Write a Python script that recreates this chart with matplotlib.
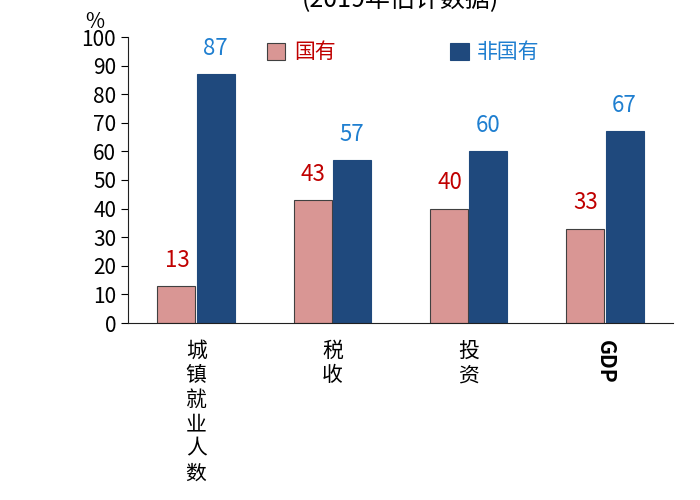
import matplotlib
matplotlib.use("Agg")
import matplotlib.pyplot as plt
import numpy as np

plt.rcParams['font.family'] = ['Noto Sans CJK SC', 'DejaVu Sans']

categories = ["城镇就业人数", "税收", "投资", "GDP"]
state = [13, 43, 40, 33]
nonstate = [87, 57, 60, 67]

fig = plt.figure(figsize=(7, 5), dpi=100)
ax = fig.add_axes([128/700, 1-323/500, 545/700, 286/500])
x = np.arange(len(categories))
w = 0.28
ax.bar(x - w/2 - 0.005, state, w, color='#d99694', edgecolor='#404040', linewidth=0.8, label='国有')
ax.bar(x + w/2 + 0.005, nonstate, w, color='#1f497d', edgecolor='#1f497d', linewidth=0.8, label='非国有')
for i in range(len(x)):
    ax.text(x[i] - w/2, state[i] + 5, str(state[i]), ha='center', va='bottom', color='#c00000', fontsize=16)
    ax.text(x[i] + w/2, nonstate[i] + 5, str(nonstate[i]), ha='center', va='bottom', color='#1f7fd0', fontsize=16)
ax.set_xlim(-0.5, 3.5)
ax.set_ylim(0, 100)
ax.set_yticks(range(0, 101, 10))
ax.tick_params(axis='y', labelsize=15, length=5, direction='out')
ax.tick_params(axis='x', length=0, pad=12)
ax.set_xticks(x)
labels = ["\n".join(c) if not c.isascii() else c for c in categories]
ax.set_xticklabels(labels, fontsize=15, va='top', linespacing=1.15)
ax.get_xticklabels()[3].set_rotation(-90)
ax.get_xticklabels()[3].set_fontweight('bold')
for s in ['top', 'right']:
    ax.spines[s].set_visible(False)
ax.spines['left'].set_color('#202020')
ax.spines['bottom'].set_color('#202020')
leg = ax.legend(loc='upper left', bbox_to_anchor=(0.22, 1.05), ncol=2, frameon=False,
                fontsize=15, handlelength=0.9, handleheight=0.9, columnspacing=5.5, handletextpad=0.4)
leg.get_texts()[0].set_color('#c00000')
leg.get_texts()[1].set_color('#1f7fd0')
fig.text(95/700, 1-22/500, "%", fontsize=15, ha='center', va='center')
fig.text(400/700, 1.0, "(2019年估计数据)", fontsize=18, ha='center', va='center')
fig.savefig("out.png", dpi=100)
